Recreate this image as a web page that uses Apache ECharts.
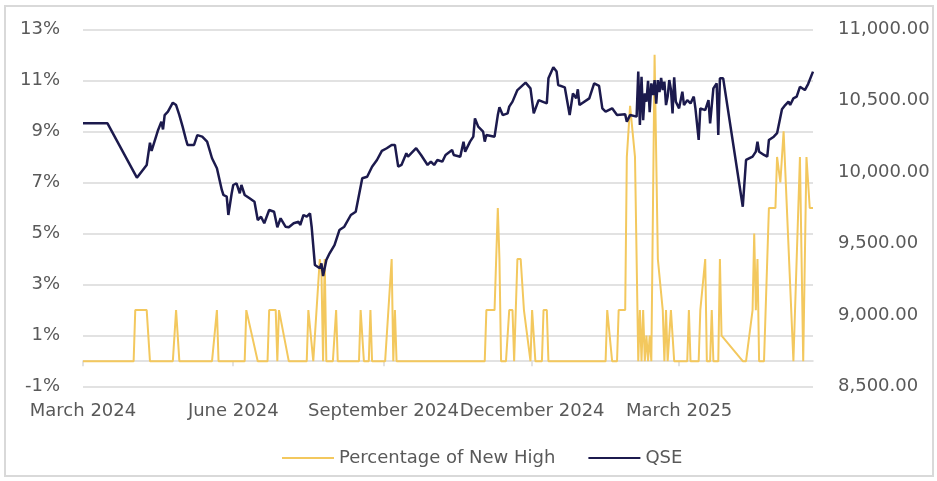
<!DOCTYPE html>
<html lang="en">
<head>
    <meta charset="UTF-8">
    <title>Percentage of New High vs QSE</title>
    <style>
        html, body { margin: 0; padding: 0; background: #fff; }
        #chart { width: 937px; height: 481px; }
    </style>
</head>
<body>
<div id="chart"></div>
<script src="https://cdn.jsdelivr.net/npm/echarts@6/dist/echarts.min.js"></script>
<script type="text/javascript">
    // x values are days counted from 1 March 2024
    var tickDays = [0, 92, 184, 275, 365];
    var tickLabels = ['March 2024', 'June 2024', 'September 2024', 'December 2024', 'March 2025'];
    var lastDay = 447;

    // QSE index (right axis)
    var qseDays = [0, 15, 33, 39, 41, 42, 46, 48, 49, 50, 52, 55, 57, 59, 61, 63, 64, 68, 70, 73,
        76, 77, 79, 82, 85, 86, 88, 89, 91, 92, 94, 96, 97, 99, 102, 105, 107, 109, 111, 114,
        117, 119, 121, 124, 126, 129, 132, 133, 135, 137, 139, 140, 142, 145, 146, 147, 149, 151, 154, 157,
        160, 164, 167, 171, 174, 177, 180, 183, 186, 189, 191, 193, 195, 198, 199, 204, 207, 211, 213, 215,
        217, 220, 222, 226, 227, 231, 233, 234, 237, 239, 240, 242, 245, 246, 247, 252, 254, 255, 257, 260,
        261, 263, 266, 271, 274, 276, 279, 284, 285, 288, 290, 291, 295, 298, 300, 302, 303, 304, 310, 313,
        316, 318, 320, 324, 327, 332, 333, 335, 339, 340, 341, 342, 343, 344, 345, 346, 347, 348, 349, 350,
        351, 352, 353, 354, 355, 356, 357, 358, 359, 360, 361, 362, 363, 365, 367, 368, 370, 372, 374, 375,
        377, 378, 381, 383, 384, 386, 388, 389, 390, 392, 404, 406, 410, 412, 413, 414, 417, 419, 420, 423,
        425, 428, 430, 432, 433, 435, 437, 439, 442, 444, 447];
    var qseValues = [10342, 10342, 9962, 10051, 10207, 10149, 10296, 10354, 10300, 10400, 10424, 10487, 10470, 10400, 10319, 10231, 10191, 10191, 10260, 10249,
        10214, 10207, 10098, 10028, 9876, 9841, 9829, 9701, 9850, 9911, 9923, 9853, 9911, 9841, 9818, 9794, 9666, 9689, 9643, 9736,
        9724, 9615, 9678, 9619, 9615, 9643, 9654, 9631, 9701, 9689, 9713, 9619, 9351, 9328, 9363, 9274, 9386, 9433, 9491, 9596,
        9619, 9701, 9724, 9958, 9969, 10039, 10086, 10150, 10168, 10191, 10191, 10039, 10051, 10133, 10109, 10168, 10121, 10051, 10074, 10051,
        10086, 10074, 10121, 10156, 10121, 10109, 10214, 10144, 10214, 10249, 10377, 10319, 10284, 10214, 10261, 10249, 10400, 10454, 10400, 10412,
        10459, 10494, 10575, 10627, 10587, 10412, 10505, 10482, 10657, 10734, 10704, 10610, 10594, 10400, 10552, 10517, 10580, 10470, 10517, 10622,
        10604, 10447, 10424, 10447, 10400, 10405, 10354, 10400, 10389, 10704, 10331, 10668, 10365, 10552, 10494, 10640, 10420, 10622, 10540, 10645,
        10480, 10645, 10560, 10660, 10575, 10634, 10470, 10529, 10645, 10580, 10412, 10664, 10494, 10447, 10564, 10470, 10505, 10482, 10529, 10447,
        10226, 10447, 10435, 10505, 10342, 10587, 10622, 10261, 10657, 10657, 9759, 10086, 10109, 10144, 10214, 10144, 10121, 10109, 10226, 10249,
        10273, 10440, 10470, 10494, 10470, 10517, 10529, 10598, 10575, 10617, 10704];

    // Percentage of new high (left axis, %)
    var pctDays = [0, 31, 32, 39, 41, 55, 57, 59, 79, 82, 83, 99, 100, 107, 113, 114, 118, 119, 120, 126,
        137, 138, 141, 142, 145, 146, 147, 148, 149, 153, 155, 156, 169, 170, 172, 175, 176, 177, 185, 189,
        190, 191, 192, 246, 247, 252, 254, 255, 256, 259, 261, 263, 264, 266, 268, 270, 271, 274, 275, 277,
        281, 282, 284, 285, 320, 321, 324, 327, 328, 332, 333, 334, 335, 338, 340, 341, 342, 343, 344, 345,
        346, 347, 348, 350, 352, 353, 355, 356, 357, 358, 360, 362, 370, 371, 372, 377, 378, 381, 382, 384,
        385, 386, 389, 390, 391, 404, 406, 410, 411, 412, 413, 414, 417, 420, 424, 425, 427, 429, 435, 439,
        441, 443, 445, 447];
    var pctValues = [0, 0, 2, 2, 0, 0, 2, 0, 0, 2, 0, 0, 2, 0, 0, 2, 2, 0, 2, 0,
        0, 2, 0, 0, 4, 3.5, 0, 4, 0, 0, 2, 0, 0, 2, 0, 0, 2, 0, 0, 4,
        0, 2, 0, 0, 2, 2, 6, 4, 0, 0, 2, 2, 0, 4, 4, 2, 2, 0, 2, 0,
        0, 2, 2, 0, 0, 2, 0, 0, 2, 2, 8, 8, 10, 8, 0, 2, 0, 2, 0, 1,
        0, 1, 0, 12, 4, 4, 2, 0, 2, 0, 2, 0, 0, 2, 0, 0, 2, 4, 0, 0,
        2, 0, 0, 4, 1, 0, 0, 2, 5, 2, 4, 0, 0, 6, 6, 8, 7, 9, 0, 8,
        0, 8, 6, 6];

    function pairs(xs, ys) {
        var res = [];
        for (var i = 0; i < xs.length; i++) {
            res.push([xs[i], ys[i]]);
        }
        return res;
    }

    function dayLabel(v) {
        var i = tickDays.indexOf(v);
        return i >= 0 ? tickLabels[i] : '';
    }

    var textColor = '#595959';
    var gridColor = '#d9d9d9';
    var font = 'DejaVu Sans';

    var chart = echarts.init(document.getElementById('chart'));
    var option = {
        backgroundColor: '#fff',
        animation: false,
        graphic: [{
            type: 'rect',
            shape: {x: 5, y: 6, width: 928, height: 470},
            style: {fill: 'none', stroke: gridColor, lineWidth: 2},
            silent: true
        }],
        grid: {left: 83, right: 124, top: 29.3, bottom: 94.3},
        legend: {
            left: 277,
            top: 443,
            itemWidth: 52,
            itemHeight: 2,
            itemGap: 33,
            icon: 'rect',
            textStyle: {color: textColor, fontFamily: font, fontSize: 18, lineHeight: 20},
            data: ['Percentage of New High', 'QSE']
        },
        xAxis: [{
            type: 'value',
            min: 0,
            max: lastDay,
            axisLine: {show: true, onZero: true, onZeroAxisIndex: 0, lineStyle: {color: gridColor, width: 1.5}},
            axisTick: {show: true, length: 5, customValues: tickDays, lineStyle: {color: gridColor, width: 1.5}},
            axisLabel: {show: false},
            splitLine: {show: false}
        }, {
            type: 'value',
            position: 'bottom',
            min: 0,
            max: lastDay,
            axisLine: {show: false},
            axisTick: {show: false},
            axisLabel: {
                customValues: tickDays,
                formatter: dayLabel,
                hideOverlap: false,
                margin: 16,
                color: textColor,
                fontFamily: font,
                fontSize: 18
            },
            splitLine: {show: false}
        }],
        yAxis: [{
            type: 'value',
            min: -1,
            max: 13,
            interval: 2,
            axisLine: {show: false},
            axisTick: {show: false},
            axisLabel: {
                formatter: function (v) { return v + '%'; },
                margin: 23,
                color: textColor,
                fontFamily: font,
                fontSize: 18
            },
            splitLine: {lineStyle: {color: gridColor, width: 1.5}}
        }, {
            type: 'value',
            min: 8500,
            max: 11000,
            interval: 500,
            position: 'right',
            axisLine: {show: false},
            axisTick: {show: false},
            axisLabel: {
                formatter: function (v) {
                    return v.toLocaleString('en-US', {minimumFractionDigits: 2, maximumFractionDigits: 2});
                },
                margin: 25,
                color: textColor,
                fontFamily: font,
                fontSize: 18
            },
            splitLine: {show: false}
        }],
        series: [{
            name: 'Percentage of New High',
            type: 'line',
            xAxisIndex: 0,
            yAxisIndex: 0,
            symbol: 'none',
            color: '#f3c85e',
            lineStyle: {width: 2, color: '#f3c85e'},
            data: pairs(pctDays, pctValues)
        }, {
            name: 'QSE',
            type: 'line',
            xAxisIndex: 0,
            yAxisIndex: 1,
            symbol: 'none',
            color: '#1c1a4d',
            lineStyle: {width: 2.5, color: '#1c1a4d'},
            data: pairs(qseDays, qseValues)
        }]
    };
    chart.setOption(option);
</script>
</body>
</html>
